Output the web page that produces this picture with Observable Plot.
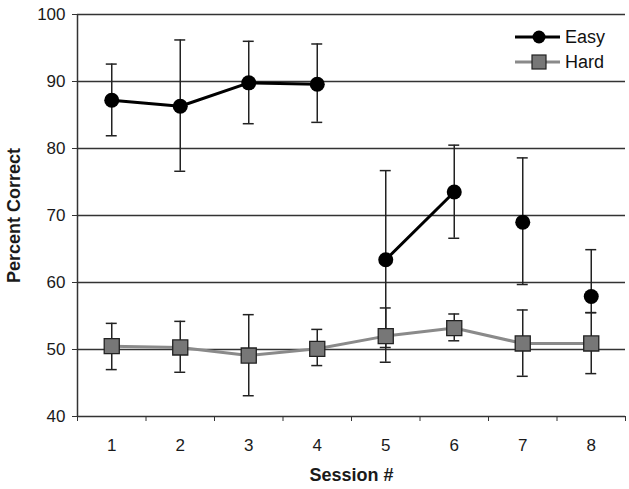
<!DOCTYPE html>
<html>
<head>
<meta charset="utf-8">
<script src="https://cdn.jsdelivr.net/npm/d3@7"></script>
<script src="https://cdn.jsdelivr.net/npm/@observablehq/plot@0.6"></script>
<style>
  html, body { margin: 0; padding: 0; background: #fff; }
  #wrap { position: relative; width: 629px; height: 489px; font-family: "Liberation Sans", Arial, sans-serif; }
  #legend { position: absolute; left: 513px; top: 25px; }
</style>
</head>
<body>
<div id="wrap"></div>
<script>
const sessions = [1, 2, 3, 4, 5, 6, 7, 8];
const easyMean = [87.2, 86.3, 89.8, 89.6, 63.4, 73.5, 69.0, 57.9];
const easyHigh = [92.6, 96.2, 96.0, 95.6, 76.7, 80.5, 78.6, 64.9];
const easyLow  = [81.9, 76.6, 83.7, 83.9, 50.3, 66.6, 59.7, 55.5];
const easySegment = [1, 1, 1, 1, 2, 2, 3, 4];
const hardMean = [50.5, 50.3, 49.1, 50.1, 52.0, 53.2, 50.9, 50.9];
const hardHigh = [53.9, 54.2, 55.2, 53.0, 56.2, 55.3, 55.9, 55.5];
const hardLow  = [47.0, 46.6, 43.1, 47.6, 48.1, 51.3, 46.0, 46.4];
const yTicks = [40, 50, 60, 70, 80, 90, 100];
const gridValues = [50, 60, 70, 80, 90, 100];
const seriesNames = ["Easy", "Hard"];

const easy = sessions.map((s, i) => ({session: s, mean: easyMean[i], hi: easyHigh[i], lo: easyLow[i], seg: easySegment[i]}));
const hard = sessions.map((s, i) => ({session: s, mean: hardMean[i], hi: hardHigh[i], lo: hardLow[i]}));
const bounds = d3.range(0.5, 8.51, 1);
const capHalf = 0.08;

const chart = Plot.plot({
  width: 629,
  height: 489,
  marginLeft: 77,
  marginRight: 4,
  marginTop: 14,
  marginBottom: 73,
  style: {fontFamily: "Liberation Sans, Arial, sans-serif", fontSize: "17px", color: "#1a1a1a", background: "#fff"},
  x: {domain: [0.5, 8.5]},
  y: {domain: [40, 100]},
  marks: [
    Plot.ruleY(gridValues, {stroke: "#333", strokeWidth: 1.3}),
    Plot.ruleY([40], {stroke: "#333", strokeWidth: 1.5}),
    Plot.ruleX([0.5], {stroke: "#333", strokeWidth: 1.5}),
    Plot.axisY({ticks: yTicks, tickSize: 5, tickPadding: 7, label: "Percent Correct", labelAnchor: "center", labelArrow: "none", labelOffset: 70, fontSize: 17, fill: "#1a1a1a", stroke: "#333"}),
    Plot.axisX({ticks: bounds, tickFormat: () => "", tickSize: 5, label: null, stroke: "#333"}),
    Plot.axisX({ticks: sessions, tickSize: 0, tickPadding: 22, label: "Session #", labelAnchor: "center", labelArrow: "none", labelOffset: 64, fontSize: 17, fill: "#1a1a1a"}),
    // hard series
    Plot.line(hard, {x: "session", y: "mean", stroke: "#8a8a8a", strokeWidth: 3}),
    Plot.ruleX(hard, {x: "session", y1: "lo", y2: "hi", stroke: "#222", strokeWidth: 1.5}),
    Plot.ruleY(hard, {y: "hi", x1: d => d.session - capHalf, x2: d => d.session + capHalf, stroke: "#222", strokeWidth: 1.5}),
    Plot.ruleY(hard, {y: "lo", x1: d => d.session - capHalf, x2: d => d.session + capHalf, stroke: "#222", strokeWidth: 1.5}),
    // easy series
    Plot.ruleX(easy, {x: "session", y1: "lo", y2: "hi", stroke: "#222", strokeWidth: 1.5}),
    Plot.ruleY(easy, {y: "hi", x1: d => d.session - capHalf, x2: d => d.session + capHalf, stroke: "#222", strokeWidth: 1.5}),
    Plot.ruleY(easy, {y: "lo", x1: d => d.session - capHalf, x2: d => d.session + capHalf, stroke: "#222", strokeWidth: 1.5}),
    Plot.line(easy, {x: "session", y: "mean", z: "seg", stroke: "#000", strokeWidth: 3}),
    Plot.dot(hard, {x: "session", y: "mean", symbol: "square", r: 8.5, fill: "#777", stroke: "#222", strokeWidth: 1.3}),
    Plot.dot(easy, {x: "session", y: "mean", symbol: "circle", r: 7.5, fill: "#000"})
  ]
});

// boldify axis labels
d3.select(chart).selectAll("g[aria-label='y-axis label'] text, g[aria-label='x-axis label'] text")
  .style("font-weight", "bold").style("font-size", "18px");

const wrap = document.getElementById("wrap");
wrap.appendChild(chart);

// legend
const leg = d3.select(wrap).append("svg").attr("id", "legend").attr("width", 110).attr("height", 50);
const legendStyles = [
  {name: seriesNames[0], stroke: "#000", fill: "#000", shape: "circle"},
  {name: seriesNames[1], stroke: "#8a8a8a", fill: "#777", shape: "square"}
];
legendStyles.forEach((s, i) => {
  const g = leg.append("g").attr("transform", `translate(0,${12 + i * 25})`);
  g.append("line").attr("x1", 2).attr("x2", 47).attr("y1", 0).attr("y2", 0).attr("stroke", s.stroke).attr("stroke-width", 3);
  if (s.shape === "circle") g.append("circle").attr("cx", 26).attr("cy", 0).attr("r", 6.5).attr("fill", s.fill);
  else g.append("rect").attr("x", 19).attr("y", -7).attr("width", 14).attr("height", 14).attr("fill", s.fill).attr("stroke", "#222").attr("stroke-width", 1.2);
  g.append("text").attr("x", 52).attr("y", 0).attr("dy", "0.35em").attr("font-size", 18).attr("fill", "#111")
    .attr("font-family", "Liberation Sans, Arial, sans-serif").text(s.name);
});
</script>
</body>
</html>
